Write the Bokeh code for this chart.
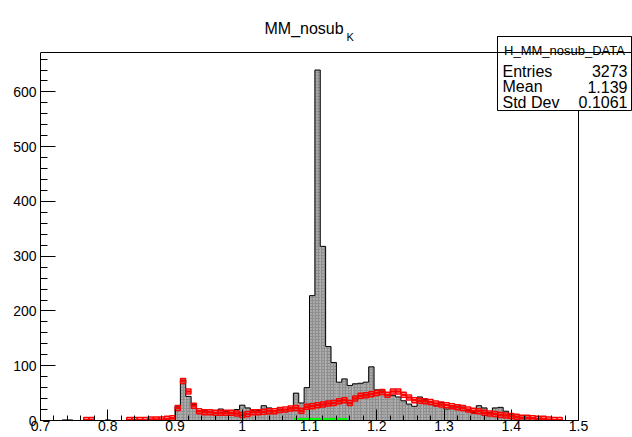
import numpy as np
from bokeh.plotting import figure
from bokeh.models import FixedTicker, Label, BoxAnnotation, Range1d
from bokeh.embed import file_html
from bokeh.resources import INLINE

# ---------------- data ----------------
bin_lo = 0.7
bin_width = 0.008
n_bins = 100

data_counts = [
    0, 0, 0, 0, 1, 1, 0, 0, 0, 2,
    0, 0, 1, 0, 0, 0, 2, 1, 0, 1,
    0, 2, 1, 3, 4, 25, 74, 44, 29, 18,
    19, 17, 15, 21, 16, 15, 20, 28, 23, 19,
    18, 27, 23, 18, 21, 20, 23, 50, 32, 60,
    228, 640, 318, 135, 106, 70, 76, 64, 67, 68,
    70, 98, 56, 56, 47, 46, 43, 36, 30, 26,
    43, 38, 33, 27, 33, 21, 23, 29, 27, 18,
    15, 27, 23, 15, 23, 24, 17, 12, 8, 6,
    6, 5, 2, 1, 0, 1, 0, 0, 0, 0,
]

mc_counts = [
    0, 0, 0, 0, 0, 0, 0, 0, 1, 1,
    0, 0, 0, 0, 0, 0, 1, 1, 1, 1,
    2, 2, 2, 3, 4, 23, 72, 53, 27, 17,
    15, 15, 14, 14, 14, 14, 13, 10, 12, 15,
    15, 16, 17, 17, 19, 20, 22, 23, 18, 25,
    26, 28, 29, 31, 32, 35, 37, 32, 40, 45,
    46, 48, 50, 52, 47, 53, 53, 47, 42, 37,
    36, 35, 34, 31, 29, 28, 26, 24, 23, 20,
    18, 17, 14, 13, 12, 10, 9, 8, 7, 5,
    5, 4, 3, 3, 2, 1, 1, 0, 0, 0,
]

green_counts = [0] * 47 + [1] * 10 + [0] * 43

x_ticks = [0.7, 0.8, 0.9, 1.0, 1.1, 1.2, 1.3, 1.4, 1.5]
x_tick_labels = ["0.7", "0.8", "0.9", "1", "1.1", "1.2", "1.3", "1.4", "1.5"]
y_ticks = [0, 100, 200, 300, 400, 500, 600]
y_tick_labels = ["0", "100", "200", "300", "400", "500", "600"]

title_main = "MM_nosub"
title_sub = "K"
stats_title = "H_MM_nosub_DATA"
stats_names = ["Entries", "Mean", "Std Dev"]
stats_values = ["3273", "1.139", "0.1061"]

# ---------------- layout ----------------
W, H = 632, 437
FONT = "Liberation Sans"
# ROOT-frame position on the canvas (pixels)
FX0, FX1, FY0, FY1 = 40, 578, 52, 420      # left, right, top, bottom
XLO, XHI = 0.7, 1.5
YLO, YHI = 0.0, 672.0
# the Bokeh frame covers everything right of and above the ROOT frame
x_end = XLO + (XHI - XLO) * (W - FX0) / (FX1 - FX0)
y_end = YLO + (YHI - YLO) * FY1 / (FY1 - FY0)

p = figure(width=W, height=H, x_range=Range1d(XLO, x_end), y_range=Range1d(YLO, y_end),
           output_backend="svg", toolbar_location=None,
           min_border_left=FX0, min_border_right=0, min_border_top=0,
           min_border_bottom=H - FY1)
p.xgrid.visible = False
p.ygrid.visible = False
p.outline_line_color = None
p.background_fill_color = "white"
p.border_fill_color = "white"

edges = bin_lo + bin_width * np.arange(n_bins + 1)
left = edges[:-1]
right = edges[1:]
counts = np.array(data_counts, dtype=float)
mc = np.array(mc_counts, dtype=float)
green = np.array(green_counts, dtype=float)

# histogram fill
p.quad(left=left, right=right, bottom=0, top=counts, fill_color="#8e8e8e",
       line_color=None, hatch_pattern="dot", hatch_color="#d2d2d2",
       hatch_scale=3, hatch_weight=1)
# histogram outline (step)
step_x = np.concatenate([[edges[0]], np.repeat(edges, 2)[1:-1], [edges[-1]]])
step_y = np.concatenate([[0], np.repeat(counts, 2), [0]])
p.line(step_x, step_y, line_color="black", line_width=1)

# red overlay points
m = mc > 0
centers = 0.5 * (left + right)
p.segment(x0=left[m], x1=right[m], y0=mc[m], y1=mc[m], line_color="red", line_width=2.5)
p.scatter(centers[m], mc[m], marker="square", size=5, line_color="red",
          fill_color=None, line_width=1.5)

# green
g = green > 0
p.segment(x0=left[g], x1=right[g], y0=green[g], y1=green[g], line_color="#00ff00", line_width=4)

# top and right edges of the ROOT frame
p.line([XLO, XHI, XHI], [YHI, YHI, YLO], line_color="black", line_width=1)

# axes
minor_x = [round(0.7 + 0.02 * i, 4) for i in range(41)]
p.xaxis.ticker = FixedTicker(ticks=x_ticks, minor_ticks=minor_x)
p.xaxis.major_label_overrides = {t: l for t, l in zip(x_ticks, x_tick_labels)}
p.xaxis.bounds = (XLO, XHI)
p.yaxis.ticker = FixedTicker(ticks=y_ticks, minor_ticks=list(range(0, 680, 20)))
p.yaxis.major_label_overrides = {t: l for t, l in zip(y_ticks, y_tick_labels)}
p.yaxis.bounds = (YLO, YHI)
for ax in (p.xaxis, p.yaxis):
    ax.axis_line_color = "black"
    ax.major_tick_line_color = "black"
    ax.minor_tick_line_color = "black"
    ax.major_tick_out = 0
    ax.minor_tick_out = 0
    ax.major_label_text_font = FONT
    ax.major_label_text_font_size = "14px"
    ax.major_label_text_color = "black"
p.xaxis.major_tick_in = 11
p.xaxis.minor_tick_in = 5
p.xaxis.major_label_standoff = 0
p.yaxis.major_tick_in = 15
p.yaxis.minor_tick_in = 7
p.yaxis.major_label_standoff = 4

# title
p.add_layout(Label(x=264, y=28, x_units="canvas", y_units="canvas", text=title_main,
                   text_font=FONT, text_font_size="16px", text_align="left",
                   text_baseline="alphabetic", text_color="black"))
p.add_layout(Label(x=346, y=36, x_units="canvas", y_units="canvas", text=title_sub,
                   text_font=FONT, text_font_size="11px", text_align="left",
                   text_baseline="alphabetic", text_color="black"))

# stats box
BL, BR, BT, BB, BH = 497, 631, 36, 110, 52
p.add_layout(BoxAnnotation(left=BL, right=BR, top=BT, bottom=BB,
                           left_units="canvas", right_units="canvas",
                           top_units="canvas", bottom_units="canvas",
                           fill_color="white", fill_alpha=1.0,
                           line_color="black", line_width=1, line_alpha=1.0))
p.add_layout(BoxAnnotation(left=BL, right=BR, top=BT, bottom=BH,
                           left_units="canvas", right_units="canvas",
                           top_units="canvas", bottom_units="canvas",
                           fill_color="white", fill_alpha=1.0,
                           line_color="black", line_width=1, line_alpha=1.0))
p.add_layout(Label(x=(BL + BR) / 2, y=50, x_units="canvas", y_units="canvas",
                   text=stats_title, text_font=FONT, text_font_size="13px",
                   text_align="center", text_baseline="alphabetic", text_color="black"))
row_y = [70.5, 86, 101.5]
for name, val, yy in zip(stats_names, stats_values, row_y):
    p.add_layout(Label(x=502, y=yy, x_units="canvas", y_units="canvas", text=name,
                       text_font=FONT, text_font_size="16px", text_align="left",
                       text_baseline="alphabetic", text_color="black"))
    p.add_layout(Label(x=627, y=yy, x_units="canvas", y_units="canvas", text=val,
                       text_font=FONT, text_font_size="16px", text_align="right",
                       text_baseline="alphabetic", text_color="black"))

open("out.html", "w").write(file_html(p, INLINE))
